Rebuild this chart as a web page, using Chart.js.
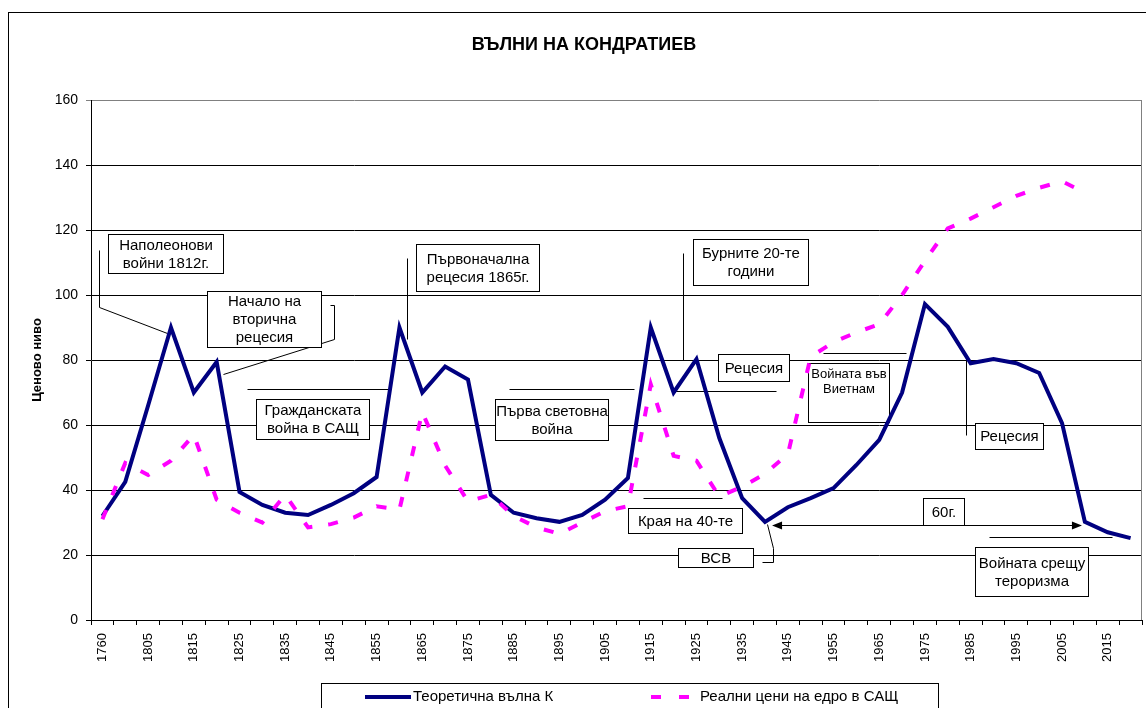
<!DOCTYPE html>
<html>
<head>
<meta charset="utf-8">
<script src="https://cdn.jsdelivr.net/npm/chart.js@4/dist/chart.umd.min.js"></script>
<style>
  body { margin: 0; background: #fff; }
  canvas { display: block; }
</style>
</head>
<body>
<canvas id="kondratiev" width="1146" height="708"></canvas>
<script>
// categories (years) and the two series
var years = ['1760', '1800', '1805', '1810', '1815', '1820', '1825', '1830', '1835', '1840',
    '1845', '1850', '1855', '1860', '1865', '1870', '1875', '1880', '1885', '1890',
    '1895', '1900', '1905', '1910', '1915', '1920', '1925', '1930', '1935', '1940',
    '1945', '1950', '1955', '1960', '1965', '1970', '1975', '1980', '1985', '1990',
    '1995', '2000', '2005', '2010', '2015', '2020'];

var theoreticalWave = [32, 42.5, 66, 90, 70, 79.4, 39.4, 35.4, 33, 32.3,
    35.4, 39, 44, 90, 70, 78, 74, 38.5, 33, 31.3,
    30.2, 32.3, 37, 43.7, 90, 70, 80.3, 56, 37.5, 30.2,
    34.7, 37.5, 40.6, 47.7, 55.4, 70, 97.2, 90.2, 79, 80.3,
    79, 76, 60.6, 30.2, 27, 25.2];

var realPrices = [31, 48.3, 44.6, 49, 57, 37, 33, 30, 38.5, 28.5,
    29.5, 31.5, 35, 34, 64, 47.5, 36.5, 38.5, 32, 28.5,
    26.5, 30, 33.5, 35, 72.5, 50.5, 49, 38, 41, 45,
    51, 81, 85.5, 88.5, 91, 100, 110.5, 120.5, 123.5, 127,
    130.5, 133, 135, 131.5, null, null];

var yTicks = [0, 20, 40, 60, 80, 100, 120, 140, 160];

var chartTitle = 'ВЪЛНИ НА КОНДРАТИЕВ';
var yTitle = 'Ценово ниво';
var seriesNames = ['Теоретична вълна К', 'Реални цени на едро в САЩ'];

// callout boxes, placed in (category index, value) units
var notes = [
    { text: ['Наполеонови', 'войни 1812г.'], at: [2.76, 112.8], w: 115, h: 39 },
    { text: ['Начало на', 'вторична', 'рецесия'], at: [7.07, 92.6], w: 114, h: 56 },
    { text: ['Гражданската', 'война в САЩ'], at: [9.2, 61.85], w: 113, h: 40 },
    { text: ['Първоначална', 'рецесия 1865г.'], at: [16.42, 108.46], w: 123, h: 47 },
    { text: ['Първа световна', 'война'], at: [19.66, 61.7], w: 113, h: 41 },
    { text: ['Бурните 20-те', 'години'], at: [28.37, 110.15], w: 115, h: 46 },
    { text: ['Рецесия'], at: [28.5, 77.7], w: 71, h: 27 },
    { text: ['Войната във', 'Виетнам'], at: [32.65, 70], w: 81, h: 59, size: 13, top: true },
    { text: ['Края на 40-те'], at: [25.5, 30.6], w: 114, h: 25 },
    { text: ['ВСВ'], at: [26.83, 19.23], w: 75, h: 19 },
    { text: ['60г.'], at: [36.81, 33.38], w: 41, h: 27 },
    { text: ['Рецесия'], at: [39.68, 56.62], w: 68, h: 26 },
    { text: ['Войната срещу', 'тероризма'], at: [40.66, 14.92], w: 113, h: 49 }
];

var leaders = [
    [[-0.14, 113.85], [-0.14, 96.3], [2.83, 88.3]],
    [[9.96, 96.9], [10.14, 96.9], [10.14, 86.5], [5.28, 75.7]],
    [[6.34, 71.1], [12.5, 71.1]],
    [[13.33, 111.4], [13.33, 86.5]],
    [[17.8, 71.1], [23.27, 71.1]],
    [[25.41, 112.9], [25.41, 80]],
    [[24.97, 70.5], [29.48, 70.5]],
    [[31.54, 82.15], [35.17, 82.15]],
    [[23.66, 37.5], [27.12, 37.5]],
    [[28.87, 17.85], [29.35, 17.85], [29.35, 22.15], [29.07, 29.5]],
    [[38.8, 25.5], [44.19, 25.5]],
    [[37.8, 80.9], [37.8, 56.9]]
];

var spanArrow = { from: [29.31, 29.23], to: [42.87, 29.23] };

var FONT = '"Liberation Sans", Arial, sans-serif';
var NAVY = '#000080';
var MAGENTA = '#FF00FF';

function arrowHead(ctx, x, y, dir) {
    ctx.beginPath();
    ctx.moveTo(x, y);
    ctx.lineTo(x - dir * 10, y - 4);
    ctx.lineTo(x - dir * 10, y + 4);
    ctx.closePath();
    ctx.fill();
}

var notesPlugin = {
    id: 'notes',
    beforeDraw: function (chart) {
        var ctx = chart.ctx;
        ctx.save();
        ctx.fillStyle = '#fff';
        ctx.fillRect(0, 0, chart.width, chart.height);
        ctx.restore();
    },
    beforeDatasetsDraw: function (chart) {
        var ctx = chart.ctx;
        var xs = chart.scales.x, ys = chart.scales.y;
        var X = function (v) { return xs.getPixelForValue(v); };
        var Y = function (v) { return ys.getPixelForValue(v); };
        ctx.save();
        ctx.strokeStyle = '#000';
        ctx.fillStyle = '#000';
        ctx.lineWidth = 1;
        leaders.forEach(function (pts) {
            ctx.beginPath();
            pts.forEach(function (p, k) {
                var px = Math.round(X(p[0])) + 0.5, py = Math.round(Y(p[1])) + 0.5;
                if (k) ctx.lineTo(px, py); else ctx.moveTo(px, py);
            });
            ctx.stroke();
        });
        var ax1 = X(spanArrow.from[0]), ax2 = X(spanArrow.to[0]);
        var ay = Math.round(Y(spanArrow.from[1])) + 0.5;
        ctx.beginPath();
        ctx.moveTo(ax1 + 8, ay);
        ctx.lineTo(ax2 - 8, ay);
        ctx.stroke();
        arrowHead(ctx, ax1, ay, -1);
        arrowHead(ctx, ax2, ay, 1);

        notes.forEach(function (n) {
            var cx = X(n.at[0]), cy = Y(n.at[1]);
            var l = Math.round(cx - n.w / 2) + 0.5, t = Math.round(cy - n.h / 2) + 0.5;
            ctx.fillStyle = '#fff';
            ctx.fillRect(l, t, n.w, n.h);
            ctx.strokeRect(l, t, n.w, n.h);
            var size = n.size || 15, lh = size * 1.2;
            ctx.fillStyle = '#000';
            ctx.font = size + 'px ' + FONT;
            ctx.textAlign = 'center';
            ctx.textBaseline = 'middle';
            var y0 = n.top ? t + 3 + lh / 2 : cy - (n.text.length - 1) * lh / 2 + 1;
            n.text.forEach(function (s, k) {
                ctx.fillText(s, l + n.w / 2, y0 + k * lh);
            });
        });
        ctx.restore();
    },
    afterDraw: function (chart) {
        var ctx = chart.ctx, area = chart.chartArea;
        ctx.save();
        // outer chart border
        ctx.strokeStyle = '#000';
        ctx.lineWidth = 1;
        ctx.strokeRect(8.5, 12.5, 1160, 720);
        // plot area right edge
        ctx.strokeStyle = '#808080';
        ctx.beginPath();
        ctx.moveTo(Math.round(area.right) - 0.5, area.top);
        ctx.lineTo(Math.round(area.right) - 0.5, area.bottom);
        ctx.stroke();
        // title
        ctx.fillStyle = '#000';
        ctx.font = 'bold 18px ' + FONT;
        ctx.textAlign = 'center';
        ctx.textBaseline = 'middle';
        ctx.fillText(chartTitle, 584, 45);
        // legend
        ctx.strokeStyle = '#000';
        ctx.fillStyle = '#fff';
        ctx.fillRect(321.5, 683.5, 617, 40);
        ctx.strokeRect(321.5, 683.5, 617, 40);
        var ds = chart.data.datasets;
        ctx.lineWidth = 4;
        ctx.strokeStyle = ds[0].borderColor;
        ctx.beginPath();
        ctx.moveTo(365, 697);
        ctx.lineTo(411, 697);
        ctx.stroke();
        ctx.strokeStyle = ds[1].borderColor;
        ctx.setLineDash([10, 18]);
        ctx.beginPath();
        ctx.moveTo(651, 697);
        ctx.lineTo(690, 697);
        ctx.stroke();
        ctx.setLineDash([]);
        ctx.fillStyle = '#000';
        ctx.font = '15px ' + FONT;
        ctx.textAlign = 'left';
        ctx.fillText(ds[0].label, 413, 697);
        ctx.fillText(ds[1].label, 700, 697);
        ctx.restore();
    }
};

var chart_kondratiev = new Chart(document.getElementById('kondratiev'), {
    type: 'line',
    data: {
        labels: years,
        datasets: [
            {
                label: seriesNames[0],
                data: theoreticalWave,
                borderColor: NAVY,
                backgroundColor: NAVY,
                borderWidth: 4,
                pointRadius: 0,
                tension: 0,
                fill: false,
                order: 2
            },
            {
                label: seriesNames[1],
                data: realPrices,
                borderColor: MAGENTA,
                backgroundColor: MAGENTA,
                borderWidth: 4,
                borderDash: [10, 16],
                pointRadius: 0,
                tension: 0,
                fill: false,
                spanGaps: false,
                order: 1
            }
        ]
    },
    options: {
        animation: false,
        responsive: false,
        layout: {
            padding: { left: 8, top: 100, right: 4, bottom: 0 }
        },
        plugins: {
            legend: { display: false },
            title: { display: false },
            tooltip: { enabled: false }
        },
        scales: {
            x: {
                offset: true,
                grid: {
                    offset: true,
                    drawOnChartArea: false,
                    drawTicks: true,
                    tickLength: 5,
                    color: '#000'
                },
                border: { color: '#000', width: 1 },
                ticks: {
                    autoSkip: false,
                    minRotation: 90,
                    maxRotation: 90,
                    padding: 8,
                    color: '#000',
                    font: { family: FONT, size: 13 },
                    callback: function (value, index) {
                        return index % 2 === 0 ? years[index] : '';
                    }
                },
                afterFit: function (scale) {
                    scale.height = 88;
                    scale.paddingLeft = 0;
                    scale.paddingRight = 0;
                }
            },
            y: {
                min: yTicks[0],
                max: yTicks[yTicks.length - 1],
                afterBuildTicks: function (scale) {
                    scale.ticks = yTicks.map(function (v) { return { value: v }; });
                },
                grid: {
                    color: function (ctx) {
                        return ctx.tick && ctx.tick.value === 160 ? '#808080' : '#000';
                    },
                    tickLength: 5,
                    lineWidth: 1
                },
                border: { color: '#000', width: 1 },
                ticks: {
                    padding: 8,
                    color: '#000',
                    font: { family: FONT, size: 14 }
                },
                title: {
                    display: true,
                    text: yTitle,
                    color: '#000',
                    font: { family: FONT, size: 13, weight: 'bold' },
                    padding: { top: 22, bottom: 0 }
                },
                afterFit: function (scale) {
                    scale.width = 83;
                    scale.paddingTop = 0;
                    scale.paddingBottom = 0;
                }
            }
        }
    },
    plugins: [notesPlugin]
});
</script>
</body>
</html>
